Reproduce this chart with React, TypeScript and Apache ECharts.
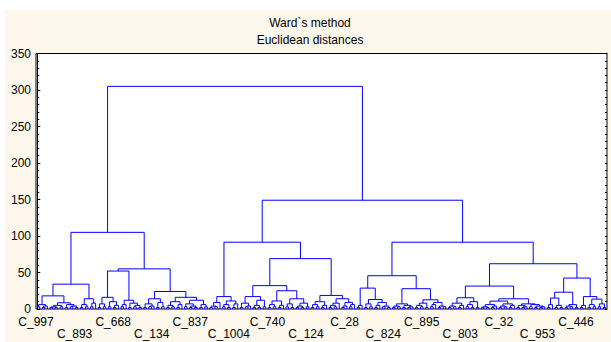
import React, { useEffect, useRef } from 'react';
import * as echarts from 'echarts';

type Node = number | [number, Node, Node];

// Titles and labels
const titleLines = ['Ward`s method', 'Euclidean distances'];
const leafLabels = [
  'C_997', 'C_893', 'C_668', 'C_134', 'C_837', 'C_1004', 'C_740', 'C_124',
  'C_28', 'C_824', 'C_895', 'C_803', 'C_32', 'C_953', 'C_446',
];
const yMin = 0;
const yMax = 350;
const yStep = 50;

// Dendrogram: [linkage distance, left, right]; a number > 0 is a pair of
// objects joined at that distance, 0 is a single object.
const clusterA1: Node = [34,
  [18, [6, 3, [4, 2, 0]], [8.5, [5, [3, 2, 2], 3], [6, 2, [4, 3, 2]]]],
  [14, [6, 2, 3], [8, 3, 0]]];
const clusterA2: Node = [55,
  [52, [16, [7, 2, 3], [10, 3, [5, 2, 0]]], [12, [6, 3, 0], [8, 2, [5, 3, 2]]]],
  [24, [14, [7, 2, [4, 3, 0]], [9, 2, 3]],
    [16, [10, [5, 2, 3], [6, 2, 0]], [12, [7, 3, [4, 2, 2]], [6, 2, 3]]]]];
const clusterB1: Node = [91.5,
  [17, [9, [4, 2, 3], 0], [11, [6, 3, 2], [7, 2, 0]]],
  [69,
    [32, [17, [8, 2, [4, 3, 0]], [12, [5, 2, 2], 3]],
      [25, [11, [6, 2, 3], [5, 2, 0]], [14, [7, 3, 2], [8, [4, 2, 2], 3]]]],
    [18.6, [10, [6, 2, 3], [5, 2, 0]],
      [14, [8, [5, 2, 3], 0], [9, [4, 2, 0], [6, 3, 0]]]]]];
const clusterB2L: Node = [45.6,
  [28.6, [5, 2, 0], [13, [7, 2, 3], [9, [5, 2, 0], [4, 3, 2]]]],
  [27.8, [7, [4, 2, 3], [5, 2, [3, 2, 0]]],
    [12.6, [8, [5, 2, 3], 2], [9, [6, 3, 0], [4, 2, 3]]]]];
const clusterB2R: Node = [62,
  [31.4, [15.4, [8, [4, 2, 3], [5, 2, 0]], [10, [6, 3, 2], 2]],
    [14, [10.8, [6, [3, 2, 2], [4, 2, 0]], [7, [4, 2, 3], [5, 2, 0]]],
      [7, [5, 2, [3, 2, 0]], [6, 3, [4, 2, [3, 2, 0]]]]]],
  [42.4, [23, [15, [6, 2, 0], [5, 2, 2]], [6, [4, 2, 3], 2]],
    [17, [5, 2, 0], [13.5, [6, 2, 3], [7, 3, 2]]]]];
const topHeights = [105, 91.5, 149, 305];

const dendrogram: Node = [topHeights[3],
  [topHeights[0], clusterA1, clusterA2],
  [topHeights[2], clusterB1, [topHeights[1], clusterB2L, clusterB2R]]];

function layoutTree(root: Node) {
  const segs: number[][] = [];
  let idx = 0;
  const walk = (n: Node): [number, number] => {
    if (typeof n === 'number') {
      if (n === 0) {
        const x = idx;
        idx += 1;
        return [x, 0];
      }
      const x = idx;
      idx += 2;
      segs.push([x, 0, x + 1, 0, n]);
      return [x + 0.5, n];
    }
    const [h, l, r] = n;
    const a = walk(l);
    const b = walk(r);
    segs.push([a[0], a[1], b[0], b[1], h]);
    return [(a[0] + b[0]) / 2, h];
  };
  walk(root);
  return { segs, count: idx };
}

const FONT = '"Liberation Sans", Arial, sans-serif';
const CREAM = '#fdf8eb';

export default function App() {
  const ref = useRef<HTMLDivElement>(null);
  useEffect(() => {
    if (!ref.current) return;
    const chart = echarts.init(ref.current, undefined, { renderer: 'svg' });
    const { segs, count } = layoutTree(dendrogram);
    const option: any = {
      animation: false,
      backgroundColor: CREAM,
      title: {
        text: titleLines.join('\n'),
        left: 310,
        top: 14.5,
        textAlign: 'center',
        padding: 0,
        textStyle: { fontSize: 12, fontWeight: 'normal', color: '#000', lineHeight: 17, fontFamily: FONT },
      },
      graphic: [
        { type: 'rect', shape: { x: 0, y: 0, width: 611, height: 10 }, style: { fill: '#fff' }, silent: true },
        { type: 'rect', shape: { x: 0, y: 0, width: 5, height: 342 }, style: { fill: '#fff' }, silent: true },
      ],
      grid: [
        { left: 36, right: 4, top: 53.5, bottom: 33, show: true, backgroundColor: '#fff', borderColor: '#000', borderWidth: 1 },
        { left: 36, right: 35, top: 53.5, bottom: 33, show: false },
      ],
      xAxis: [
        { type: 'value', gridIndex: 0, min: -0.5, max: count - 0.5, show: false },
        {
          type: 'category', gridIndex: 1, data: leafLabels, boundaryGap: false,
          axisLine: { show: false }, axisTick: { show: false }, splitLine: { show: false },
          axisLabel: {
            interval: 0, fontSize: 12, color: '#000', fontFamily: FONT, margin: 7, lineHeight: 12,
            formatter: (v: string, i: number) => (i % 2 ? '\n' + v : v),
          },
        },
      ],
      yAxis: [
        {
          type: 'value', gridIndex: 0, min: yMin, max: yMax, interval: yStep, position: 'left',
          axisLine: { show: true, lineStyle: { color: '#000', width: 1 } },
          axisTick: { show: true, inside: true, length: 3, lineStyle: { color: '#000' } },
          minorTick: { show: true, splitNumber: 5, length: 2, lineStyle: { color: '#000' } },
          splitLine: { show: false },
          axisLabel: { fontSize: 12, color: '#000', fontFamily: FONT, margin: 5, lineHeight: 11, padding: [0, 0, 2, 0] },
        },
        {
          type: 'value', gridIndex: 0, min: yMin, max: yMax, interval: yStep, position: 'right',
          axisLine: { show: true, lineStyle: { color: '#808080', width: 2 } },
          axisTick: { show: true, inside: true, length: 2, lineStyle: { color: '#000' } },
          minorTick: { show: true, splitNumber: 5, length: 2, lineStyle: { color: '#000' } },
          splitLine: { show: false },
          axisLabel: { show: false },
        },
        { type: 'value', gridIndex: 1, min: 0, max: 1, show: false },
      ],
      series: [
        {
          type: 'custom',
          xAxisIndex: 0,
          yAxisIndex: 0,
          data: segs,
          encode: { x: [0, 2], y: [1, 3, 4] },
          renderItem: (_p: any, api: any) => {
            const x1 = api.value(0), h1 = api.value(1), x2 = api.value(2), h2 = api.value(3), h = api.value(4);
            const pts = [api.coord([x1, h1]), api.coord([x1, h]), api.coord([x2, h]), api.coord([x2, h2])];
            return {
              type: 'polyline',
              shape: { points: pts },
              style: { stroke: '#0000ff', lineWidth: 1, fill: 'none' },
            };
          },
        },
      ],
    };
    chart.setOption(option);
    return () => chart.dispose();
  }, []);
  return (
    <div
      ref={ref}
      style={{ position: 'absolute', left: 0, top: 0, width: 611, height: 342 }}
    />
  );
}
